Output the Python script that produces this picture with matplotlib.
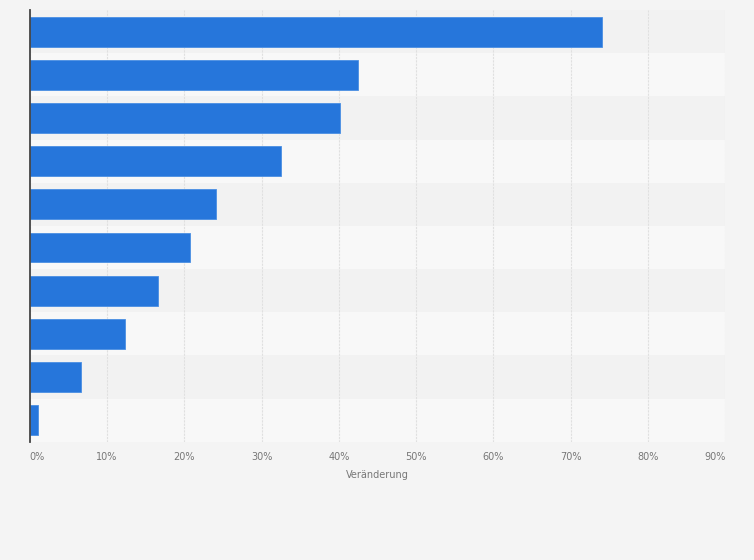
import matplotlib.pyplot as plt
import numpy as np

# values (percent change), top to bottom
values = [74.0, 42.5, 40.2, 32.5, 24.1, 20.8, 16.6, 12.4, 6.6, 1.1]
ticks = [0, 10, 20, 30, 40, 50, 60, 70, 80, 90]
tick_labels = [f"{t}%" for t in ticks]

fig = plt.figure(figsize=(7.54, 5.6), dpi=100)
fig.patch.set_facecolor('#f4f4f4')
ax = fig.add_axes([0.0393, 0.211, 0.9227, 0.771])
ax.set_facecolor('#f4f4f4')

y = np.arange(len(values))

# alternating row bands
for i in y:
    ax.axhspan(i - 0.5, i + 0.5, color='#f2f2f2' if i % 2 == 0 else '#f8f8f8', zorder=0, lw=0)

ax.barh(y, values, height=0.69, color='#2676db', edgecolor='#4a8fe3', linewidth=0.6, zorder=3)

ax.set_xlim(0, 90)
ax.set_ylim(len(values) - 0.5, -0.5)
ax.set_xticks(ticks)
ax.set_xticklabels(tick_labels, fontsize=7, color='#777777')
# first and last labels pulled inside the plot edges
lbls = ax.get_xticklabels()
lbls[0].set_ha('left')
lbls[-1].set_ha('right')
ax.set_yticks([])
ax.tick_params(axis='x', length=0, pad=7)
ax.grid(axis='x', color='#e0e0e0', linestyle=(0, (2, 1)), linewidth=0.8, zorder=1)

for s in ['top', 'right', 'bottom']:
    ax.spines[s].set_visible(False)
ax.spines['left'].set_color('#444444')
ax.spines['left'].set_linewidth(1.3)
ax.spines['left'].set_zorder(4)

ax.set_xlabel('Veränderung', fontsize=7, color='#777777', labelpad=6)

fig.savefig('out.png', dpi=100, facecolor=fig.get_facecolor())
